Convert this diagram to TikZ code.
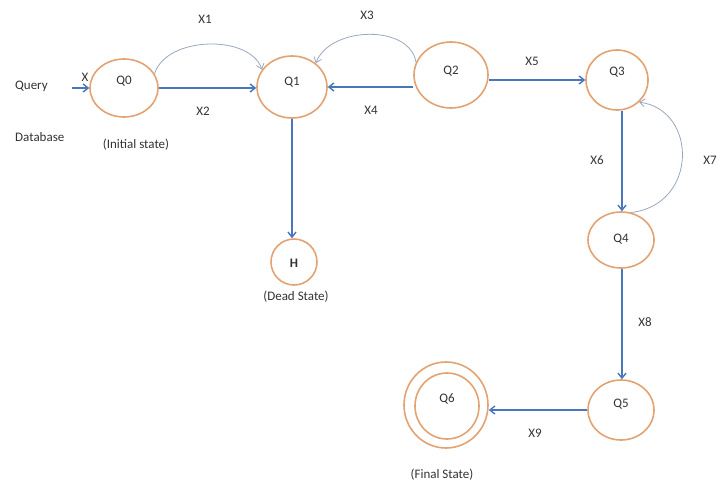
\documentclass[tikz,border=0pt]{standalone}
\usepackage{fontspec}
\setmainfont{Carlito}
\usetikzlibrary{shapes.geometric,arrows.meta}
\definecolor{stroke}{HTML}{E3A271}
\definecolor{arr}{HTML}{4A76BE}
\definecolor{thin}{HTML}{9AA7BF}
\definecolor{txt}{HTML}{333333}
\begin{document}
\begin{tikzpicture}[x=1pt,y=-1pt,font=\fontsize{13}{15}\selectfont,text=txt,
  state/.style={ellipse,draw=stroke,line width=1.6pt,inner sep=0pt},
  main/.style={draw=arr,line width=1.4pt,-{Straight Barb[length=5pt,width=8pt]}},
  arc/.style={draw=thin,line width=0.8pt,-{Straight Barb[length=5pt,width=8pt]}},
  lbl/.style={inner sep=1pt}]
\useasboundingbox (0,0) rectangle (719,487);
\node[state,minimum width=68pt,minimum height=58pt] (q0) at (124,88) {};
\node[state,minimum width=70pt,minimum height=62pt] (q1) at (292,87) {};
\node[state,minimum width=74pt,minimum height=66pt] (q2) at (451,75) {};
\node[state,minimum width=62pt,minimum height=60pt] (q3) at (617,80) {};
\node[state,minimum width=66pt,minimum height=56pt] (q4) at (621,240) {};
\node[state,minimum width=66pt,minimum height=60pt] (q5) at (621,410) {};
\node[state,minimum width=84pt,minimum height=86pt] (q6) at (446,405) {};
\node[state,minimum width=64pt,minimum height=66pt] (q6i) at (447,406) {};
\node[state,minimum width=46pt,minimum height=46pt] (h) at (294,262) {};
\node[lbl] (t0) at (124,81) {Q0};
\node[lbl] (t1) at (292,82) {Q1};
\node[lbl] (t2) at (451,71) {Q2};
\node[lbl] (t3) at (617,72) {Q3};
\node[lbl] (t4) at (621,239) {Q4};
\node[lbl] (t5) at (621,404) {Q5};
\node[lbl] (t6) at (447,399) {Q6};
\node[lbl] (th) at (294,263) {\textbf{H}};
\node[lbl,anchor=west] (query) at (14,86) {Query};
\node[lbl,anchor=west] (db) at (14,137) {Database};
\coordinate (qs) at (72,88);
\node[lbl] (xin) at (85,77) {X};
\node[lbl] (init) at (136,145) {(Initial state)};
\node[lbl] (dead) at (296,297) {(Dead State)};
\node[lbl] (final) at (442,475) {(Final State)};
\node[lbl] (x1) at (205,19) {X1};
\node[lbl] (x2) at (203,111) {X2};
\node[lbl] (x3) at (367,15) {X3};
\node[lbl] (x4) at (371,110) {X4};
\node[lbl] (x5) at (532,61) {X5};
\node[lbl] (x6) at (597,160) {X6};
\node[lbl,anchor=east] (x7) at (718,160) {X7};
\node[lbl] (x8) at (645,322) {X8};
\node[lbl] (x9) at (535,433) {X9};
\draw[main] (qs) -- (q0.west);
\draw[main] (q0.east) -- (q0.east -| q1.west);
\draw[arc] (q0.25) .. controls (166,36) and (250,34) .. (q1.150);
\draw[arc] (q2.160) .. controls (410,24) and (330,26) .. (q1.45);
\draw[main] (q2.west |- q1.east) -- (q1.east);
\draw[main] (q2.east |- q3.west) -- (q3.west);
\draw[main] (q3.south -| 622,0) -- (q4.north -| 622,0);
\draw[arc] (q4.70) .. controls (698,205) and (698,110) .. (q3.-45);
\draw[main] (q1.south) -- (q1.south |- h.north);
\draw[main] (q4.south -| 622,0) -- (q5.north -| 622,0);
\draw[main] (q5.west) -- (q5.west -| q6.east);
\end{tikzpicture}
\end{document}
